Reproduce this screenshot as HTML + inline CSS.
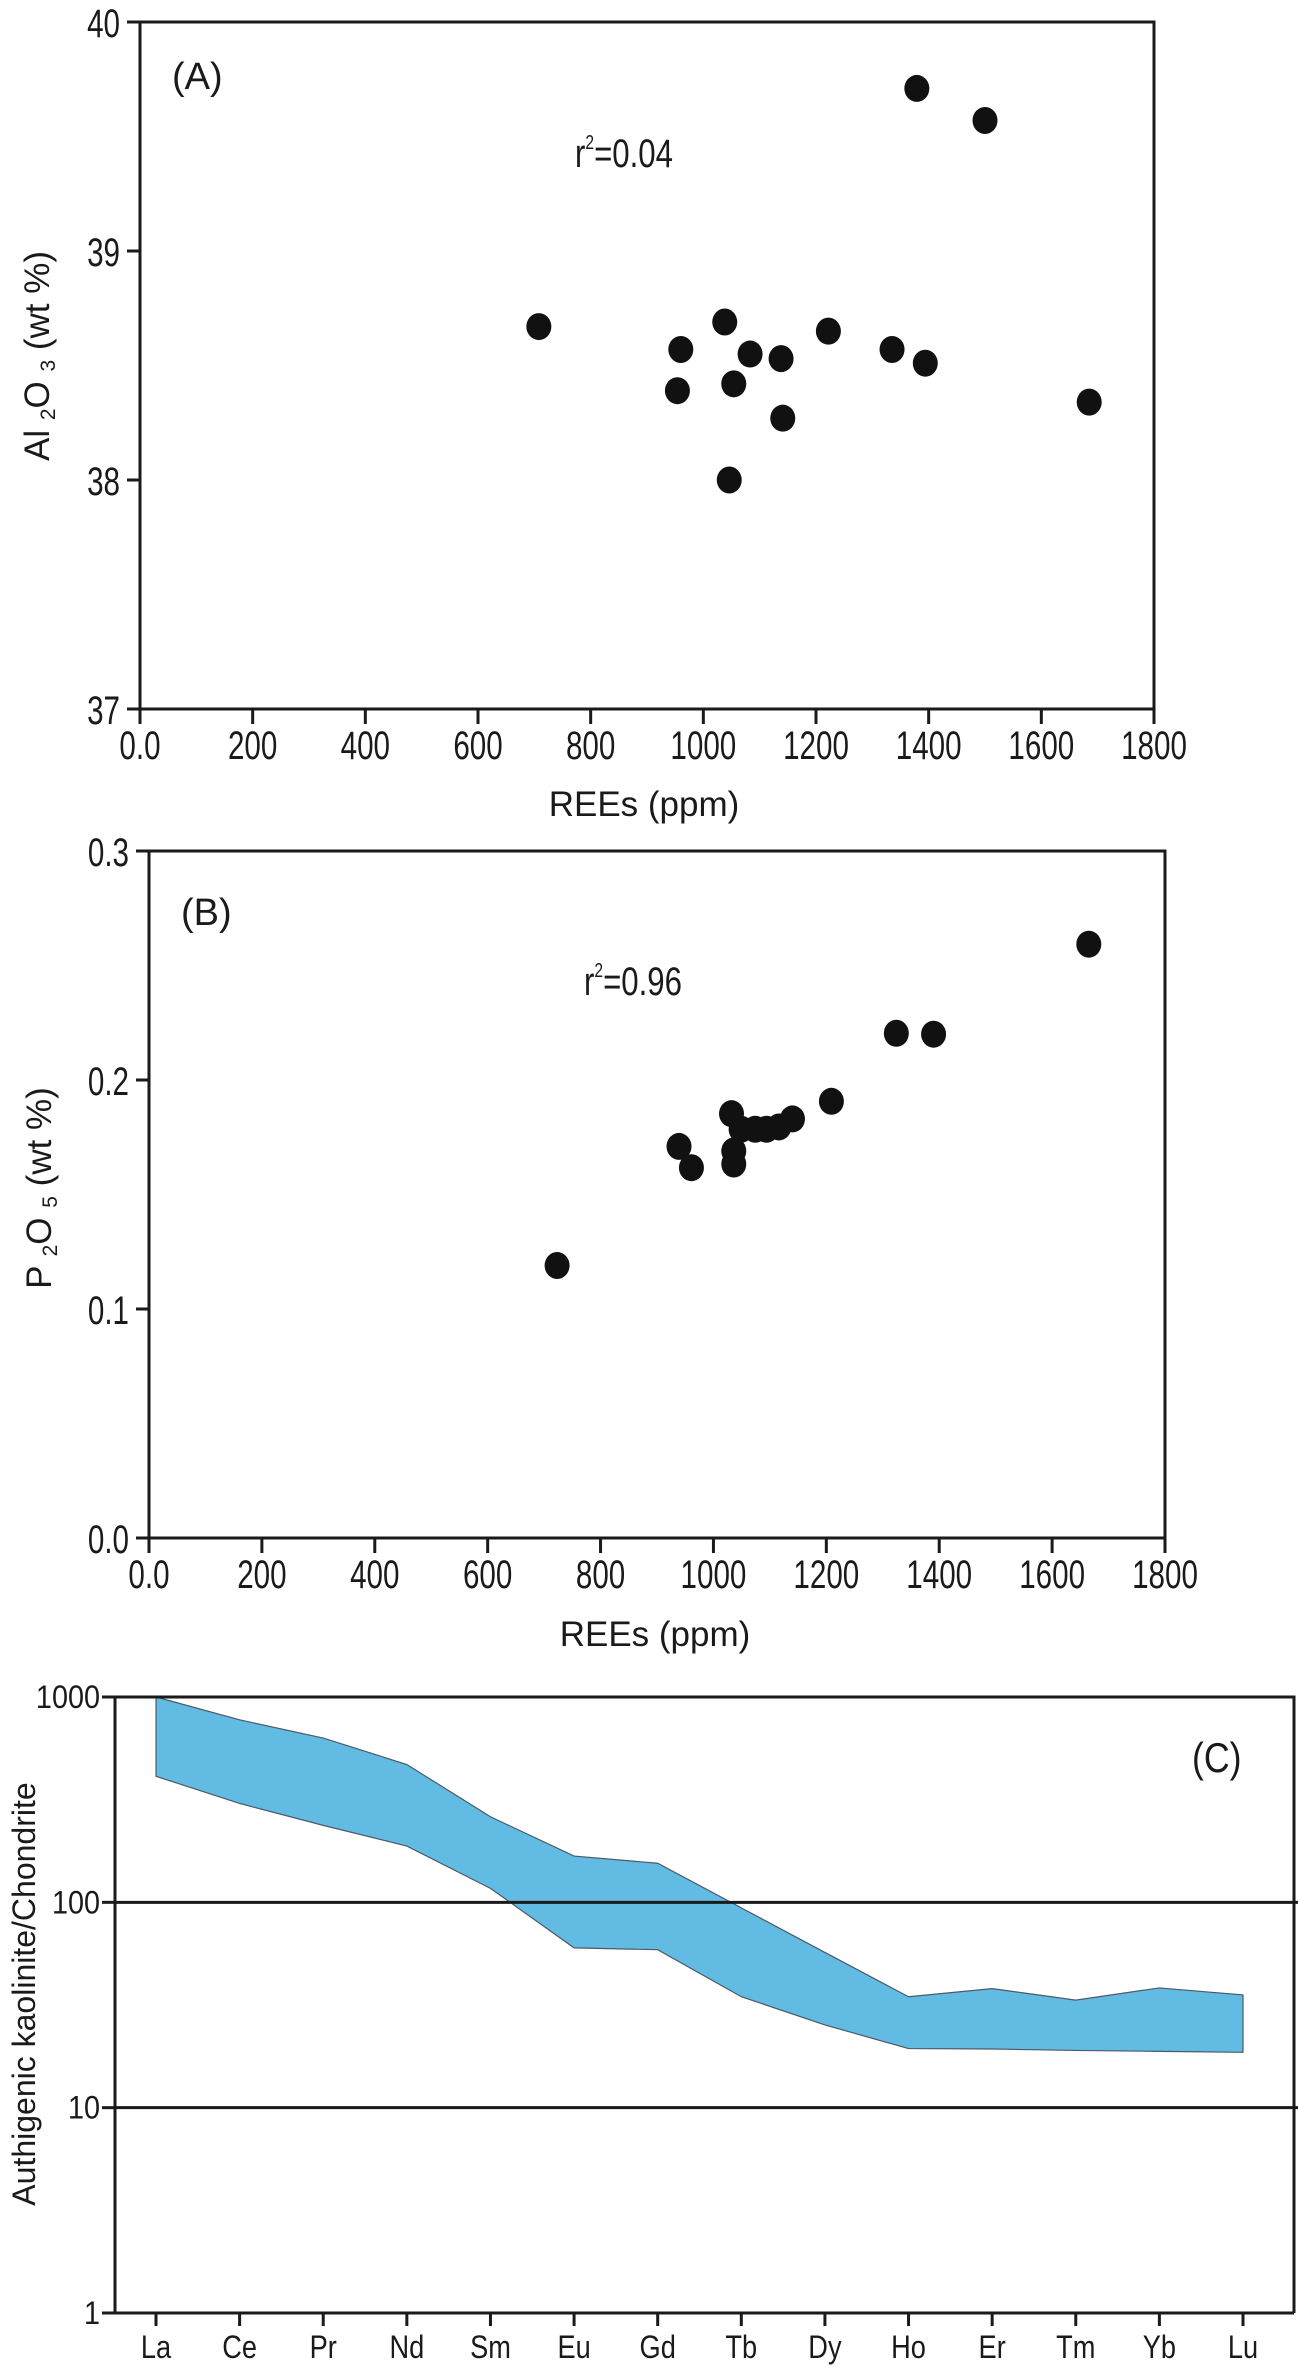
<!DOCTYPE html>
<html>
<head>
<meta charset="utf-8">
<style>
  html,body{margin:0;padding:0;background:#fff;}
  svg{display:block;}
  text{font-family:"Liberation Sans",Arial,sans-serif;fill:#1a1a1a;}
</style>
</head>
<body>
<svg id="fig" width="1298" height="2371" viewBox="0 0 1298 2371" xmlns="http://www.w3.org/2000/svg">
  <g id="panelA"></g>
  <g id="panelB"></g>
  <g id="panelC"></g>
</svg>
<script>
// ---- Panel A data ----
const aREE = [708, 960, 954, 1038, 1054, 1083, 1046, 1138, 1141, 1222, 1335, 1394, 1379, 1500, 1685];
const aAl2O3 = [38.67, 38.57, 38.39, 38.69, 38.42, 38.55, 38.0, 38.53, 38.27, 38.65, 38.57, 38.51, 39.71, 39.57, 38.34];
const aYTicks = [37, 38, 39, 40];
const aYTickLabels = ["37", "38", "39", "40"];
// ---- Panel B data ----
const bREE = [723, 939, 961, 1032, 1036, 1036, 1049, 1074, 1094, 1116, 1140, 1209, 1324, 1390, 1665];
const bP2O5 = [0.119, 0.171, 0.1617, 0.1853, 0.169, 0.1633, 0.1785, 0.1785, 0.1785, 0.1795, 0.183, 0.1907, 0.2204, 0.22, 0.2593];
const bYTicks = [0, 0.1, 0.2, 0.3];
const bYTickLabels = ["0.0", "0.1", "0.2", "0.3"];
// ---- shared x ticks ----
const xTicks = [0, 200, 400, 600, 800, 1000, 1200, 1400, 1600, 1800];
const xTickLabels = ["0.0", "200", "400", "600", "800", "1000", "1200", "1400", "1600", "1800"];
// ---- Panel C data ----
const elements = ["La","Ce","Pr","Nd","Sm","Eu","Gd","Tb","Dy","Ho","Er","Tm","Yb","Lu"];
const cUpper = [1000, 774, 631, 469, 261, 168, 155, 94, 57, 34.7, 38, 33.4, 38.3, 35.4];
const cLower = [411, 303, 237, 188, 117, 60, 58.8, 34.7, 25.3, 19.4, 19.3, 19.0, 18.8, 18.6];
const cYTicks = [1, 10, 100, 1000];
const cYTickLabels = ["1", "10", "100", "1000"];

const NS = "http://www.w3.org/2000/svg";
function mk(parent, tag, attrs, txt) {
  const e = document.createElementNS(NS, tag);
  for (const k in attrs) e.setAttribute(k, attrs[k]);
  if (txt !== undefined) e.textContent = txt;
  parent.appendChild(e);
  return e;
}

function scatterPanel(g, cfg) {
  const sx = v => cfg.x0 + (v - 0) / 1800 * (cfg.x1 - cfg.x0);
  const sy = v => cfg.yb - (v - cfg.ymin) / (cfg.ymax - cfg.ymin) * (cfg.yb - cfg.yt);
  const frame = mk(g, "rect", {x: cfg.x0, y: cfg.yt, width: cfg.x1 - cfg.x0, height: cfg.yb - cfg.yt, fill: "none", stroke: "#1a1a1a", "stroke-width": 3});
  
  
  cfg.yTicks.forEach((t, i) => {
    const y = sy(t);
    const tk = mk(g, "line", {x1: cfg.x0 - 13, x2: cfg.x0, y1: y, y2: y, stroke: "#1a1a1a", "stroke-width": 3});
    
    
    const tl = mk(g, "text", {transform: `translate(${cfg.x0 - 20},${y + 15}) scale(0.74,1)`, "text-anchor": "end", "font-size": 40}, cfg.yLabels[i]);
    
    
  });
  xTicks.forEach((t, i) => {
    const x = sx(t);
    const tk = mk(g, "line", {x1: x, x2: x, y1: cfg.yb, y2: cfg.yb + 15, stroke: "#1a1a1a", "stroke-width": 3});
    
    
    const tl = mk(g, "text", {transform: `translate(${x},${cfg.yb + 50}) scale(0.74,1)`, "text-anchor": "middle", "font-size": 40}, xTickLabels[i]);
    
    
  });
  cfg.xs.forEach((v, i) => {
    const p = mk(g, "ellipse", {cx: sx(v), cy: sy(cfg.ys[i]), rx: 12.5, ry: 13.5, fill: "#111"});
    
    
  });
}

const gA = document.getElementById("panelA");
scatterPanel(gA, {x0: 140, x1: 1154, yt: 22, yb: 709, ymin: 37, ymax: 40, yTicks: aYTicks, yLabels: aYTickLabels, xs: aREE, ys: aAl2O3});
const gB = document.getElementById("panelB");
scatterPanel(gB, {x0: 149, x1: 1165, yt: 851, yb: 1538, ymin: 0, ymax: 0.3, yTicks: bYTicks, yLabels: bYTickLabels, xs: bREE, ys: bP2O5});

const gC = document.getElementById("panelC");
const cx0 = 115, cx1 = 1294, cyt = 1697, cyb = 2313;
const cxs = i => 156 + i * (1243 - 156) / (elements.length - 1);
const cys = v => cyb - (Math.log10(v) - 0) / 3 * (cyb - cyt);
let pts = [];
cUpper.forEach((v, i) => pts.push(cxs(i) + "," + cys(v)));
for (let i = cLower.length - 1; i >= 0; i--) pts.push(cxs(i) + "," + cys(cLower[i]));
const band = mk(gC, "polygon", {points: pts.join(" "), fill: "#62bbe3", stroke: "#4a5a66", "stroke-width": 1.2});


const cframe = mk(gC, "path", {d: `M${cx0},${cyb} L${cx0},${cyt} L${cx1},${cyt} L${cx1},${cyb}`, fill: "none", stroke: "#1a1a1a", "stroke-width": 3});


const cxaxis = mk(gC, "line", {x1: cx0, x2: cx1, y1: cyb, y2: cyb, stroke: "#1a1a1a", "stroke-width": 3});


cYTicks.forEach((t, i) => {
  const y = cys(t);
  if (t === 10 || t === 100) {
    const gl = mk(gC, "line", {x1: cx0, x2: 1298, y1: y, y2: y, stroke: "#1a1a1a", "stroke-width": 3});
    
    
  }
  const tk = mk(gC, "line", {x1: cx0 - 13, x2: cx0, y1: y, y2: y, stroke: "#1a1a1a", "stroke-width": 3});
  
  
  const tl = mk(gC, "text", {transform: `translate(${cx0 - 15},${y + 11}) scale(0.9,1)`, "text-anchor": "end", "font-size": 32}, cYTickLabels[i]);
  
  
});
elements.forEach((el, i) => {
  const x = cxs(i);
  const tk = mk(gC, "line", {x1: x, x2: x, y1: cyb, y2: cyb + 13, stroke: "#1a1a1a", "stroke-width": 3});
  
  
  const tl = mk(gC, "text", {transform: `translate(${x},${cyb + 45}) scale(0.85,1)`, "text-anchor": "middle", "font-size": 32}, el);
  
  
});
</script>
<script>
(function(){
  const svg = document.getElementById("fig");
  svg.insertAdjacentHTML("beforeend", `
  <text x="172" y="89" font-size="38">(A)</text>
  <text transform="translate(575,167) scale(0.78,1)" font-size="40">r<tspan font-size="20" dy="-18">2</tspan><tspan dy="18">=0.04</tspan></text>
  <text transform="translate(49,356) rotate(-90)" text-anchor="middle" font-size="35">Al <tspan font-size="21" dy="6">2</tspan><tspan dy="-6">O </tspan><tspan font-size="21" dy="6">3</tspan><tspan dy="-6"> (wt %)</tspan></text>
  <text x="644" y="816" text-anchor="middle" font-size="35">REEs (ppm)</text>

  <text x="181" y="925" font-size="38">(B)</text>
  <text transform="translate(584,995) scale(0.78,1)" font-size="40">r<tspan font-size="20" dy="-18">2</tspan><tspan dy="18">=0.96</tspan></text>
  <text transform="translate(51,1188) rotate(-90)" text-anchor="middle" font-size="35">P <tspan font-size="21" dy="6">2</tspan><tspan dy="-6">O </tspan><tspan font-size="21" dy="6">5</tspan><tspan dy="-6"> (wt %)</tspan></text>
  <text x="655" y="1646" text-anchor="middle" font-size="35">REEs (ppm)</text>

  <text transform="translate(1192,1772) scale(0.85,1)" font-size="42">(C)</text>
  <text transform="translate(35,1994) rotate(-90)" text-anchor="middle" font-size="32">Authigenic kaolinite/Chondrite</text>
  `);
})();
</script>
</body>
</html>
